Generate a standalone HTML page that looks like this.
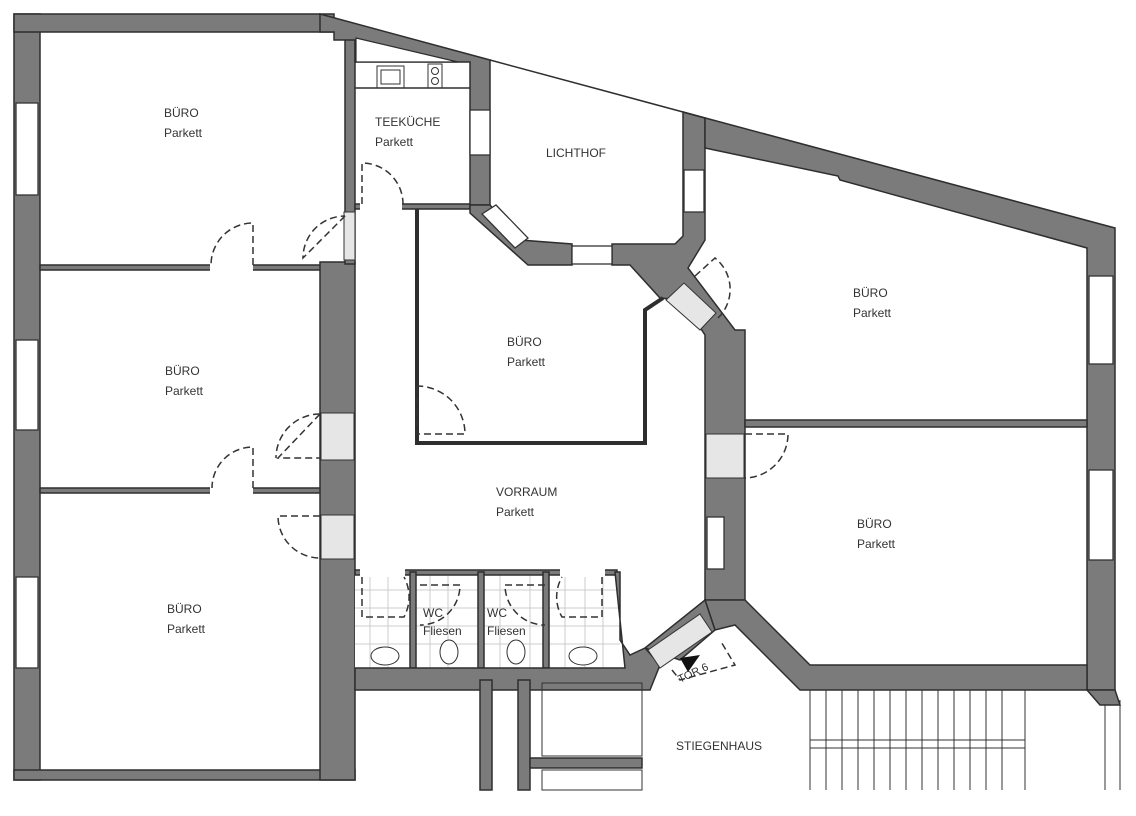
<!DOCTYPE html>
<html><head><meta charset="utf-8"><style>
body{margin:0;background:#fff}
svg{display:block}
text{font-family:"Liberation Sans",sans-serif;font-size:12px;fill:#333}
.w{fill:#7b7b7b;stroke:#2e2e2e;stroke-width:1.5}
.l{fill:none;stroke:#2e2e2e;stroke-width:1.5}
.d{fill:none;stroke:#333;stroke-width:1.5;stroke-dasharray:7,4}
.win{fill:#fff;stroke:#333;stroke-width:1.3}
.op{fill:#e6e6e6;stroke:#333;stroke-width:1}
.t{stroke:#ccc;stroke-width:1}
</style></head><body>
<svg width="1136" height="816" viewBox="0 0 1136 816">
<rect class="w" x="14" y="14" width="26" height="766"/>
<rect class="w" x="14" y="14" width="320" height="18"/>
<rect class="w" x="14" y="770" width="341" height="10"/>
<rect class="win" x="16" y="103" width="22" height="92"/>
<rect class="win" x="16" y="340" width="22" height="90"/>
<rect class="win" x="16" y="577" width="22" height="91"/>
<rect class="w" x="40" y="265" width="282" height="5"/>
<rect class="w" x="40" y="488" width="282" height="5"/>
<rect class="w" x="320" y="262" width="35" height="518"/>
<rect class="w" x="345" y="32" width="10" height="232"/>
<rect class="op" x="321" y="413" width="33" height="47"/>
<rect class="op" x="321" y="515" width="33" height="44"/>
<rect class="op" x="344" y="212" width="11" height="48"/>
<rect x="210" y="263" width="43" height="9" fill="#fff"/>
<rect x="210" y="486" width="43" height="9" fill="#fff"/>
<polygon class="w" points="320,14 490,60 490,205 470,205 470,62 355,62 355,40 334,40 334,32 320,32"/>
<polygon fill="#fff" stroke="#2e2e2e" stroke-width="1.2" points="356,38 458,62 356,62"/>
<line class="l" x1="490" y1="60" x2="683" y2="112"/>
<line class="l" x1="355" y1="88" x2="470" y2="88"/>
<rect x="377" y="66" width="27" height="22" fill="none" stroke="#333"/>
<rect x="381" y="70" width="19" height="14" fill="none" stroke="#333"/>
<rect x="428" y="64" width="14" height="24" fill="none" stroke="#333"/>
<circle cx="435" cy="71" r="3.5" fill="none" stroke="#333"/>
<circle cx="435" cy="81" r="3.5" fill="none" stroke="#333"/>
<rect class="w" x="355" y="204" width="115" height="5"/>
<rect x="360" y="202" width="42" height="9" fill="#fff"/>
<rect class="win" x="470" y="110" width="20" height="45"/>
<polygon class="w" points="470,205 490,205 520,240 572,244 572,265 528,265 470,213"/>
<polygon class="w" points="612,244 675,244 683,236 683,112 705,118 705,240 688,268 735,330 745,330 745,600 705,600 705,335 682,300 660,298 630,265 612,265"/>
<rect class="win" x="572" y="246" width="40" height="18"/>
<polygon class="win" points="482,214 496,205 528,238 515,248"/>
<rect class="win" x="684" y="170" width="20" height="42"/>
<polygon class="op" points="666,300 684,283 716,313 700,330"/>
<polyline class="l" points="417,209 417,443 645,443 645,310 663,298" style="stroke-width:4"/>
<polygon class="w" points="683,112 1115,228 1115,690 1087,690 1087,248 840,180 838,176 705,148 705,118"/>
<rect class="win" x="1089" y="276" width="24" height="88"/>
<rect class="win" x="1089" y="470" width="24" height="90"/>
<rect class="w" x="745" y="420" width="342" height="7"/>
<rect class="op" x="706" y="434" width="38" height="44"/>
<rect class="win" x="707" y="517" width="17" height="52"/>
<polygon class="w" points="705,600 745,600 810,665 1087,665 1087,690 800,690 735,625 715,630"/>
<rect x="355" y="572" width="265" height="96" fill="#fff"/>
<g class="t">
<line x1="355" y1="590" x2="620" y2="590"/><line x1="355" y1="608" x2="620" y2="608"/><line x1="355" y1="626" x2="620" y2="626"/><line x1="355" y1="644" x2="620" y2="644"/>
<line x1="370" y1="572" x2="370" y2="668"/><line x1="388" y1="572" x2="388" y2="668"/><line x1="430" y1="572" x2="430" y2="668"/><line x1="448" y1="572" x2="448" y2="668"/><line x1="500" y1="572" x2="500" y2="668"/><line x1="530" y1="572" x2="530" y2="668"/><line x1="565" y1="572" x2="565" y2="668"/><line x1="585" y1="572" x2="585" y2="668"/><line x1="603" y1="572" x2="603" y2="668"/>
</g>
<rect class="w" x="355" y="570" width="262" height="5"/>
<rect x="360" y="568" width="45" height="9" fill="#fff"/><rect x="560" y="568" width="45" height="9" fill="#fff"/>
<rect class="w" x="410" y="572" width="6" height="96"/>
<rect class="w" x="478" y="572" width="6" height="96"/>
<rect class="w" x="543" y="572" width="6" height="96"/>
<polygon class="w" points="615,572 620,572 620,640 630,655 645,648 660,665 650,690 355,690 355,668 625,668"/>
<polygon class="w" points="645,648 705,600 715,630 680,660"/>
<polygon class="op" points="648,650 700,614 712,632 660,668"/>
<ellipse cx="385" cy="656" rx="14" ry="9" fill="#fff" stroke="#333"/>
<ellipse cx="449" cy="652" rx="9" ry="12" fill="#fff" stroke="#333"/>
<ellipse cx="516" cy="652" rx="9" ry="12" fill="#fff" stroke="#333"/>
<ellipse cx="583" cy="656" rx="14" ry="9" fill="#fff" stroke="#333"/>
<rect class="w" x="480" y="680" width="12" height="110"/>
<rect class="w" x="518" y="680" width="12" height="110"/>
<rect class="w" x="530" y="758" width="112" height="10"/>
<rect x="542" y="683" width="100" height="73" fill="none" stroke="#333"/>
<rect x="542" y="770" width="100" height="20" fill="none" stroke="#333"/>
<g stroke="#333" stroke-width="1">
<line x1="810" y1="690" x2="810" y2="790"/><line x1="1025" y1="690" x2="1025" y2="790"/>
<line x1="826" y1="690" x2="826" y2="790"/><line x1="842" y1="690" x2="842" y2="790"/><line x1="858" y1="690" x2="858" y2="790"/><line x1="874" y1="690" x2="874" y2="790"/><line x1="890" y1="690" x2="890" y2="790"/><line x1="906" y1="690" x2="906" y2="790"/><line x1="922" y1="690" x2="922" y2="790"/><line x1="938" y1="690" x2="938" y2="790"/><line x1="954" y1="690" x2="954" y2="790"/><line x1="970" y1="690" x2="970" y2="790"/><line x1="986" y1="690" x2="986" y2="790"/><line x1="1002" y1="690" x2="1002" y2="790"/>
<line x1="810" y1="740" x2="1025" y2="740"/><line x1="810" y1="748" x2="1025" y2="748"/>
<line x1="1105" y1="700" x2="1105" y2="790"/><line x1="1120" y1="700" x2="1120" y2="790"/>
</g>
<polygon class="w" points="1087,690 1115,690 1120,705 1100,705"/>
<path class="d" d="M253,265 L253,223 A42,42 0 0 0 211,265"/>
<path class="d" d="M253,488 L253,447 A41,41 0 0 0 212,488"/>
<path class="d" d="M345,216 L303,258 A42,42 0 0 1 345,216"/>
<path class="d" d="M320,414 L278,458 L320,458"/>
<path class="d" d="M320,414 A44,44 0 0 0 276,458"/>
<path class="d" d="M320,516 L278,516 A42,42 0 0 0 320,558"/>
<path class="d" d="M362,204 L362,163 A41,41 0 0 1 403,204"/>
<path class="d" d="M417,386 L417,434 L465,434 A48,48 0 0 0 417,386"/>
<path class="d" d="M745,434 L788,434 A44,44 0 0 1 745,478"/>
<path class="d" d="M695,276 L715,258 A40,40 0 0 1 718,318"/>
<path class="d" d="M362,577 L362,617 L404,617 A42,42 0 0 0 404,577"/>
<path class="d" d="M420,585 L460,585 A40,40 0 0 1 420,625"/>
<path class="d" d="M545,585 L505,585 A40,40 0 0 0 545,625"/>
<path class="d" d="M602,577 L602,617 L562,617 A40,40 0 0 1 562,577"/>
<path class="d" d="M672,670 L680,680 L735,665 L720,640"/>
<polygon points="680,658 700,655 688,672" fill="#111"/>
<text x="164" y="117">BÜRO</text><text x="164" y="137">Parkett</text>
<text x="165" y="375">BÜRO</text><text x="165" y="395">Parkett</text>
<text x="167" y="613">BÜRO</text><text x="167" y="633">Parkett</text>
<text x="375" y="126">TEEKÜCHE</text><text x="375" y="146">Parkett</text>
<text x="546" y="157">LICHTHOF</text>
<text x="507" y="346">BÜRO</text><text x="507" y="366">Parkett</text>
<text x="496" y="496">VORRAUM</text><text x="496" y="516">Parkett</text>
<text x="853" y="297">BÜRO</text><text x="853" y="317">Parkett</text>
<text x="857" y="528">BÜRO</text><text x="857" y="548">Parkett</text>
<text x="423" y="617">WC</text><text x="423" y="635">Fliesen</text>
<text x="487" y="617">WC</text><text x="487" y="635">Fliesen</text>
<text x="676" y="750">STIEGENHAUS</text>
<text x="680" y="683" transform="rotate(-25 680 683)" style="font-size:11px">TOR 6</text>
</svg>
</body></html>
